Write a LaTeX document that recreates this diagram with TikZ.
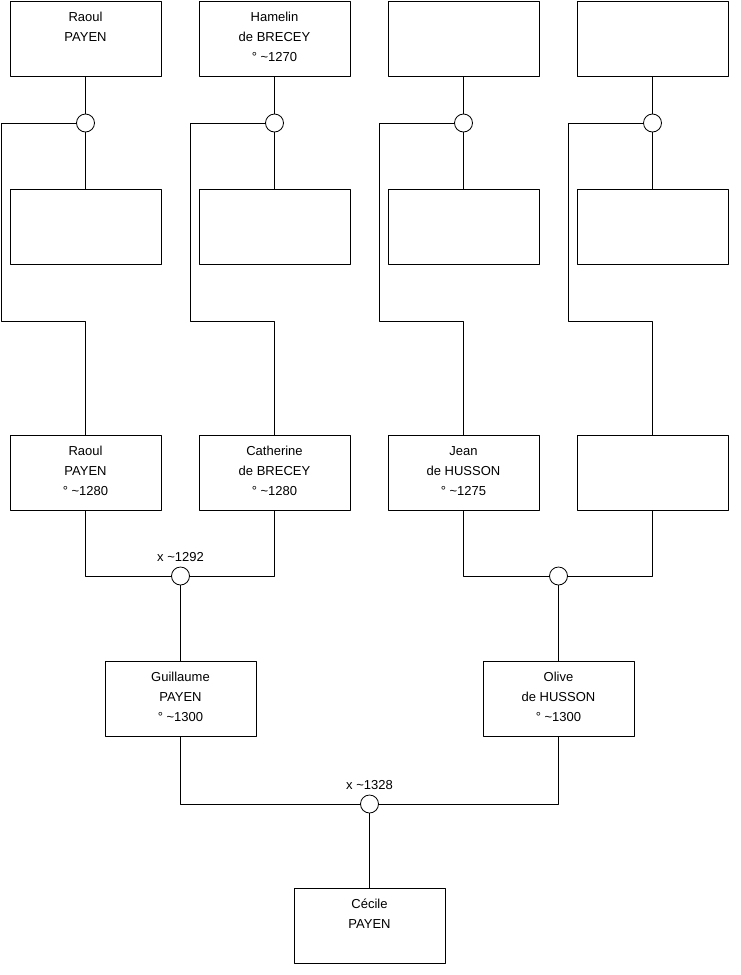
\documentclass[tikz,border=0pt]{standalone}
\usepackage{fontspec}
\setmainfont{Liberation Sans}
% text of a person box: lines start from the top of the box
\newcommand{\person}[1]{\parbox[c][75pt][t]{151pt}{\centering\rule{0pt}{20pt}#1}}
\begin{document}
\begin{tikzpicture}[x=1pt, y=-1pt, line width=0.8pt, line cap=round, line join=round, font=\fontsize{13}{20}\selectfont]
	\tikzset{box/.style={draw, inner sep=0pt},
		ring/.style={circle, draw, fill=white, minimum size=18pt, inner sep=0pt},
		wed/.style={font=\fontsize{13}{15}\selectfont, inner sep=2pt, label distance=2.5pt}}
	\useasboundingbox (0,0) rectangle (740,975);
	% grandparents
	\node[box] (topA) at (85.5,38.5) {\person{Raoul\\PAYEN}};
	\node[box] (topB) at (274.5,38.5) {\person{Hamelin\\de BRECEY\\° \textasciitilde1270}};
	\node[box] (topC) at (463.5,38.5) {\person{}};
	\node[box] (topD) at (652.5,38.5) {\person{}};
	\node[ring] (ringA) at (85.5,123) {};
	\node[ring] (ringB) at (274.5,123) {};
	\node[ring] (ringC) at (463.5,123) {};
	\node[ring] (ringD) at (652.5,123) {};
	\node[box] (sibA) at (85.5,227) {\person{}};
	\node[box] (sibB) at (274.5,227) {\person{}};
	\node[box] (sibC) at (463.5,227) {\person{}};
	\node[box] (sibD) at (652.5,227) {\person{}};
	\coordinate (elbowA) at (1,321);
	\coordinate (elbowB) at (190,321);
	\coordinate (elbowC) at (379,321);
	\coordinate (elbowD) at (568,321);
	% parents
	\node[box] (parA) at (85.5,472.5) {\person{Raoul\\PAYEN\\° \textasciitilde1280}};
	\node[box] (parB) at (274.5,472.5) {\person{Catherine\\de BRECEY\\° \textasciitilde1280}};
	\node[box] (parC) at (463.5,472.5) {\person{Jean\\de HUSSON\\° \textasciitilde1275}};
	\node[box] (parD) at (652.5,472.5) {\person{}};
	\node[ring, label={[wed]above:x \textasciitilde1292}] (wedAB) at (180.5,576) {};
	\node[ring] (wedCD) at (558.5,576) {};
	\node[box] (guillaume) at (180.5,699) {\person{Guillaume\\PAYEN\\° \textasciitilde1300}};
	\node[box] (olive) at (558.5,699) {\person{Olive\\de HUSSON\\° \textasciitilde1300}};
	\node[ring, label={[wed]above:x \textasciitilde1328}] (wedGO) at (369.5,804) {};
	\node[box] (cecile) at (369.5,926) {\person{Cécile\\PAYEN}};
	% connectors
	\foreach \c in {A,B,C,D}{
		\draw (top\c.south) -- (ring\c.north);
		\draw (ring\c.south) -- (sib\c.north);
		\draw (ring\c.west) -| (elbow\c) -| (par\c.north);
	}
	\draw (parA.south) |- (wedAB.west);
	\draw (parB.south) |- (wedAB.east);
	\draw (parC.south) |- (wedCD.west);
	\draw (parD.south) |- (wedCD.east);
	\draw (wedAB.south) -- (guillaume.north);
	\draw (wedCD.south) -- (olive.north);
	\draw (guillaume.south) |- (wedGO.west);
	\draw (olive.south) |- (wedGO.east);
	\draw (wedGO.south) -- (cecile.north);
\end{tikzpicture}
\end{document}
